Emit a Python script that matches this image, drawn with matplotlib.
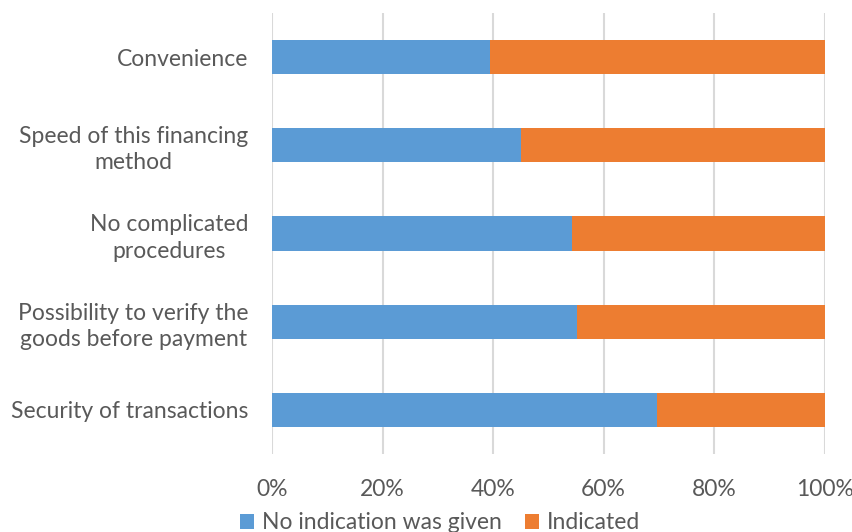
import matplotlib.pyplot as plt
import numpy as np

plt.rcParams['font.family'] = ['Lato', 'DejaVu Sans']

categories = ["Convenience", "Speed of this financing\nmethod", "No complicated\nprocedures",
              "Possibility to verify the\ngoods before payment", "Security of transactions"]
no_indication = [39.4, 45.1, 54.2, 55.2, 69.7]
indicated = [100 - v for v in no_indication]
xticks = [0, 20, 40, 60, 80, 100]

txt = "#595959"
fs = 16.5
fig = plt.figure(figsize=(8.53, 5.32), dpi=100)
ax = fig.add_axes([0.3189, 0.1466, 0.6478, 0.829])

y = np.arange(len(categories))
ax.barh(y, no_indication, height=0.39, color="#5B9BD5", label="No indication was given", zorder=3)
ax.barh(y, indicated, left=no_indication, height=0.39, color="#ED7D31", label="Indicated", zorder=3)

ax.set_ylim(len(categories) - 0.5, -0.5)
ax.set_xlim(0, 100)
ax.set_yticks(y)
ax.set_yticklabels(categories, fontsize=fs, color=txt, multialignment="center", linespacing=1.3)
ax.set_xticks(xticks)
ax.set_xticklabels([f"{t}%" for t in xticks], fontsize=fs, color=txt)
ax.tick_params(length=0)
ax.tick_params(axis="x", pad=18)
ax.tick_params(axis="y", pad=17)
ax.grid(axis="x", color="#d9d9d9", linewidth=1.5, zorder=0)
for s in ax.spines.values():
    s.set_visible(False)

fig.legend(loc="center", bbox_to_anchor=(0.516, 0.017), ncol=2, frameon=False,
           fontsize=fs, labelcolor=txt, handlelength=0.6, handleheight=0.6,
           handletextpad=0.35, columnspacing=1.0)

fig.savefig("out.png", dpi=100)
